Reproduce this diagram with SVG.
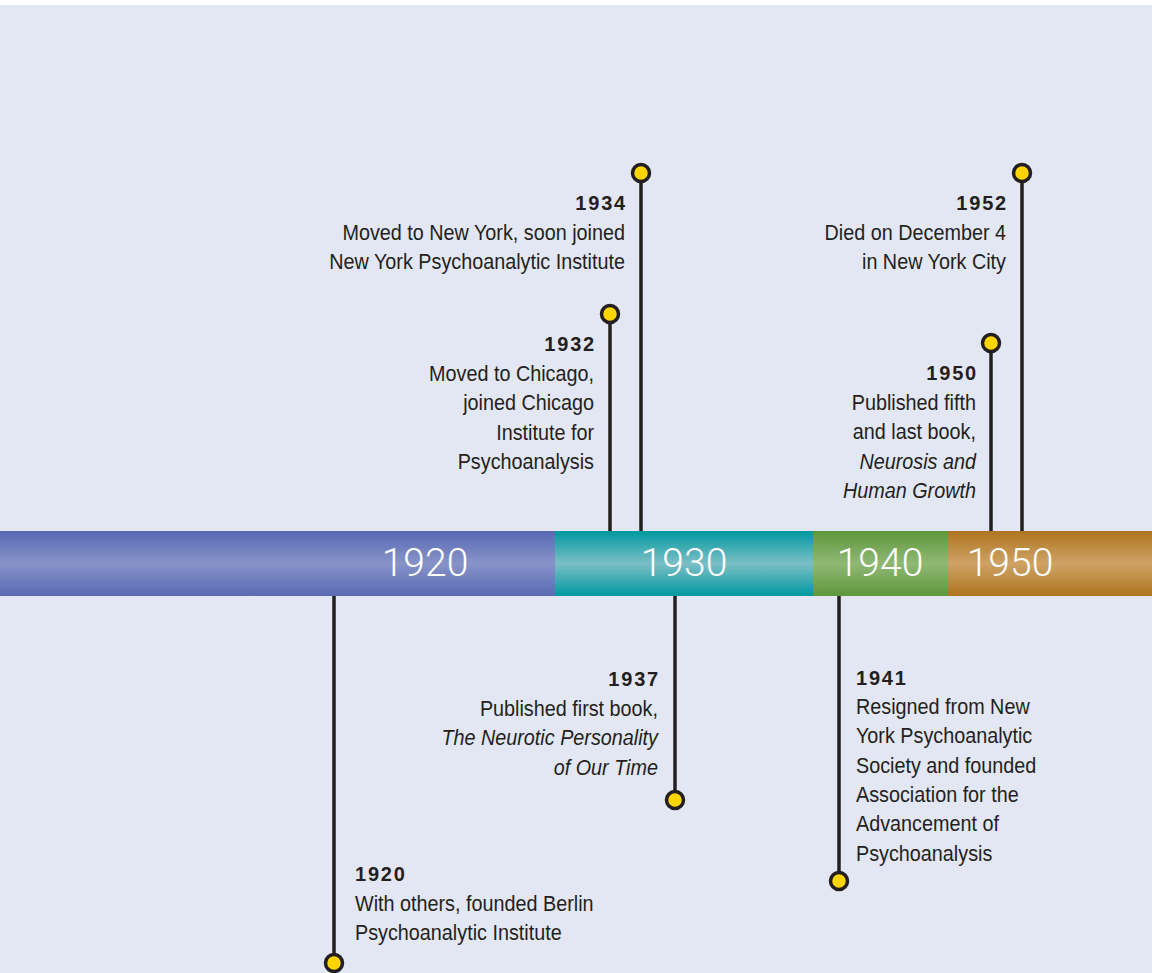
<svg xmlns="http://www.w3.org/2000/svg" width="1152" height="973" viewBox="0 0 1152 973">
<style>
.desc{font-family:"Liberation Sans",Arial,sans-serif;font-size:22px;fill:#231f20}
.yr{font-family:"Liberation Sans","DejaVu Sans",Arial,sans-serif;font-size:20px;font-weight:bold;fill:#231f20;letter-spacing:1.8px}
.it{font-style:italic}
.bar{font-family:Roboto,"Liberation Sans",Arial,sans-serif;font-weight:300;font-size:39px;fill:#ffffff;text-anchor:middle}
.stem{stroke:#231f20;stroke-width:3.5;fill:none}
.dot{fill:#ffd500;stroke:#231f20;stroke-width:3.5}
.r{text-anchor:end}
</style>
<defs>
<linearGradient id="gb" x1="0" y1="0" x2="0" y2="1"><stop offset="0" stop-color="#5769b3"/><stop offset="0.5" stop-color="#8893c9"/><stop offset="1" stop-color="#5769b3"/></linearGradient>
<linearGradient id="gt" x1="0" y1="0" x2="0" y2="1"><stop offset="0" stop-color="#00989f"/><stop offset="0.5" stop-color="#7cbfc6"/><stop offset="1" stop-color="#00989f"/></linearGradient>
<linearGradient id="gg" x1="0" y1="0" x2="0" y2="1"><stop offset="0" stop-color="#5e973b"/><stop offset="0.5" stop-color="#8fb875"/><stop offset="1" stop-color="#5e973b"/></linearGradient>
<linearGradient id="go" x1="0" y1="0" x2="0" y2="1"><stop offset="0" stop-color="#ae7420"/><stop offset="0.5" stop-color="#cea365"/><stop offset="1" stop-color="#ae7420"/></linearGradient>
</defs>
<rect x="0" y="0" width="1152" height="973" fill="#ffffff"/>
<rect x="0" y="5" width="1152" height="968" fill="#e3e7f3"/>
<g id="timeline-bar">
<rect x="0" y="531" width="556" height="65" fill="url(#gb)"/>
<rect x="555" y="531" width="259" height="65" fill="url(#gt)"/>
<rect x="813" y="531" width="136" height="65" fill="url(#gg)"/>
<rect x="948" y="531" width="204" height="65" fill="url(#go)"/>
<text class="bar" x="425" y="576">1920</text>
<text class="bar" x="684" y="576">1930</text>
<text class="bar" x="880" y="576">1940</text>
<text class="bar" x="1010" y="576">1950</text>
</g>
<g id="connectors">
<line class="stem" x1="641" y1="173" x2="641" y2="531"/>
<line class="stem" x1="610" y1="314" x2="610" y2="531"/>
<line class="stem" x1="1022" y1="173" x2="1022" y2="531"/>
<line class="stem" x1="991" y1="343" x2="991" y2="531"/>
<line class="stem" x1="334" y1="596" x2="334" y2="963"/>
<line class="stem" x1="675" y1="596" x2="675" y2="800"/>
<line class="stem" x1="839" y1="596" x2="839" y2="881"/>
</g>
<g id="event-1934">
<circle class="dot" cx="641" cy="173" r="8.5"/>
<text class="yr r" x="627" y="210">1934</text>
<g transform="matrix(0.9 0 0 1 62.5 0)">
<text class="desc r" x="625" y="240">Moved to New York, soon joined</text>
<text class="desc r" x="625" y="269">New York Psychoanalytic Institute</text>
</g>
</g>
<g id="event-1932">
<circle class="dot" cx="610" cy="314" r="8.5"/>
<text class="yr r" x="596" y="351">1932</text>
<g transform="matrix(0.9 0 0 1 59.4 0)">
<text class="desc r" x="594" y="381">Moved to Chicago,</text>
<text class="desc r" x="594" y="410">joined Chicago</text>
<text class="desc r" x="594" y="440">Institute for</text>
<text class="desc r" x="594" y="469">Psychoanalysis</text>
</g>
</g>
<g id="event-1952">
<circle class="dot" cx="1022" cy="173" r="8.5"/>
<text class="yr r" x="1008" y="210">1952</text>
<g transform="matrix(0.9 0 0 1 100.6 0)">
<text class="desc r" x="1006" y="240">Died on December 4</text>
<text class="desc r" x="1006" y="269">in New York City</text>
</g>
</g>
<g id="event-1950">
<circle class="dot" cx="991" cy="343" r="8.5"/>
<text class="yr r" x="978" y="380">1950</text>
<g transform="matrix(0.9 0 0 1 97.6 0)">
<text class="desc r" x="976" y="410">Published fifth</text>
<text class="desc r" x="976" y="439">and last book,</text>
<text class="desc r it" x="976" y="469">Neurosis and</text>
<text class="desc r it" x="976" y="498">Human Growth</text>
</g>
</g>
<g id="event-1920">
<circle class="dot" cx="334" cy="963" r="8.5"/>
<text class="yr" x="355" y="881">1920</text>
<g transform="matrix(0.9 0 0 1 35.5 0)">
<text class="desc" x="355" y="911">With others, founded Berlin</text>
<text class="desc" x="355" y="940">Psychoanalytic Institute</text>
</g>
</g>
<g id="event-1937">
<circle class="dot" cx="675" cy="800" r="8.5"/>
<text class="yr r" x="660" y="686">1937</text>
<g transform="matrix(0.9 0 0 1 65.8 0)">
<text class="desc r" x="658" y="716">Published first book,</text>
<text class="desc r it" x="658" y="745">The Neurotic Personality</text>
<text class="desc r it" x="658" y="775">of Our Time</text>
</g>
</g>
<g id="event-1941">
<circle class="dot" cx="839" cy="881" r="8.5"/>
<text class="yr" x="856" y="685">1941</text>
<g transform="matrix(0.9 0 0 1 85.6 0)">
<text class="desc" x="856" y="714">Resigned from New</text>
<text class="desc" x="856" y="743">York Psychoanalytic</text>
<text class="desc" x="856" y="773">Society and founded</text>
<text class="desc" x="856" y="802">Association for the</text>
<text class="desc" x="856" y="831">Advancement of</text>
<text class="desc" x="856" y="861">Psychoanalysis</text>
</g>
</g>
</svg>
